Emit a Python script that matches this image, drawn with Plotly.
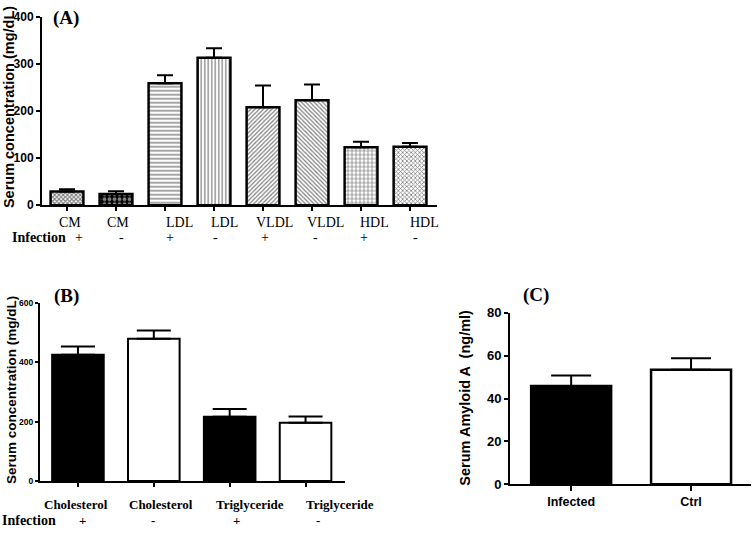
import plotly.graph_objects as go

# ---------------- data ----------------
a_labels = ["CM", "CM", "LDL", "LDL", "VLDL", "VLDL", "HDL", "HDL"]
a_infection = ["+", "-", "+", "-", "+", "-", "+", "-"]
a_values = [29, 24, 259, 313, 208, 223, 123, 124]
a_errors = [5, 6, 17, 20, 46, 33, 12, 8]
a_yticks = [0, 100, 200, 300, 400]

b_labels = ["Cholesterol", "Cholesterol", "Triglyceride", "Triglyceride"]
b_infection = ["+", "-", "+", "-"]
b_values = [425, 479, 216, 196]
b_errors = [28, 28, 26, 21]
b_colors = ["black", "white", "black", "white"]
b_yticks = [0, 200, 400, 600]

c_labels = ["Infected", "Ctrl"]
c_values = [45.8, 53.4]
c_errors = [4.9, 5.4]
c_colors = ["black", "white"]
c_yticks = [0, 20, 40, 60, 80]

# ---------------- styling ----------------
W, H = 752, 534
def px(x):
    return x / W
def py(y):
    return 1 - y / H

SANS = "Liberation Sans, Arial, sans-serif"
SERIF = "Liberation Serif, Times New Roman, serif"

def bold(vals):
    return ["<b>%s</b>" % v for v in vals]

a_patterns = [
    dict(shape="x", size=3, solidity=0.6, fgcolor="black", bgcolor="white"),
    dict(shape=".", size=5, solidity=0.45, fgcolor="white", bgcolor="black"),
    dict(shape="-", size=4, solidity=0.35, fgcolor="black", bgcolor="white"),
    dict(shape="|", size=3.5, solidity=0.35, fgcolor="black", bgcolor="white"),
    dict(shape="/", size=3, solidity=0.4, fgcolor="black", bgcolor="white"),
    dict(shape="\\", size=3, solidity=0.4, fgcolor="black", bgcolor="white"),
    dict(shape="+", size=4, solidity=0.35, fgcolor="black", bgcolor="white"),
    dict(shape="x", size=3, solidity=0.45, fgcolor="black", bgcolor="white"),
]

fig = go.Figure()

# Panel A bars (one trace per bar to allow different patterns)
for i, (v, e, pat) in enumerate(zip(a_values, a_errors, a_patterns)):
    fig.add_trace(go.Bar(
        x=[i], y=[v], width=0.67, xaxis="x", yaxis="y",
        marker=dict(color="white", line=dict(color="black", width=2.5), pattern=pat),
        error_y=dict(type="data", array=[e], arrayminus=[0], symmetric=False,
                     color="black", thickness=2, width=8),
        showlegend=False, hoverinfo="skip",
    ))

# Panel B
fig.add_trace(go.Bar(
    x=list(range(len(b_values))), y=b_values, width=0.68, xaxis="x2", yaxis="y2",
    marker=dict(color=b_colors, line=dict(color="black", width=2)),
    error_y=dict(type="data", array=b_errors, arrayminus=[0] * len(b_errors), symmetric=False,
                 color="black", thickness=2, width=17),
    showlegend=False, hoverinfo="skip",
))

# Panel C
fig.add_trace(go.Bar(
    x=list(range(len(c_values))), y=c_values, width=0.667, xaxis="x3", yaxis="y3",
    marker=dict(color=c_colors, line=dict(color="black", width=2.5)),
    error_y=dict(type="data", array=c_errors, arrayminus=[0] * len(c_errors), symmetric=False,
                 color="black", thickness=2, width=20),
    showlegend=False, hoverinfo="skip",
))

axis_common = dict(showgrid=False, zeroline=False, showline=True, linecolor="black",
                   linewidth=2, ticks="outside", tickcolor="black", tickwidth=2)

annotations = []

# Panel A labels
for i, (lab, inf) in enumerate(zip(a_labels, a_infection)):
    shift_lab = [3, 2, 14, 10, 11, 13, 13, 14][i]
    shift_inf = [12, 5, 5, 1, 2, 3, 3, 5][i]
    annotations.append(dict(x=i, y=py(222), xref="x", yref="paper", text=lab, showarrow=False,
                            xshift=shift_lab, font=dict(family=SERIF, size=14, color="black"),
                            xanchor="center", yanchor="middle"))
    annotations.append(dict(x=i, y=py(237), xref="x", yref="paper", text=inf, showarrow=False,
                            xshift=shift_inf, font=dict(family=SERIF, size=14, color="black"),
                            xanchor="center", yanchor="middle"))
annotations.append(dict(x=px(10), y=py(237), xref="paper", yref="paper", text="<b>Infection</b>",
                        showarrow=False, xanchor="left", yanchor="middle",
                        font=dict(family=SERIF, size=14, color="black")))
annotations.append(dict(x=px(66), y=py(11), xref="paper", yref="paper", text="<b>(A)</b>",
                        showarrow=False, xanchor="center", yanchor="middle",
                        font=dict(family=SERIF, size=19, color="black")))
annotations.append(dict(x=px(9), y=py(103), xref="paper", yref="paper",
                        text="<b>Serum concentration (mg/dL)</b>", textangle=-90,
                        showarrow=False, xanchor="center", yanchor="middle",
                        font=dict(family=SANS, size=14.5, color="black")))

# Panel B labels
for i, (lab, inf) in enumerate(zip(b_labels, b_infection)):
    shift_lab = [-2, 7, 20, 34][i]
    shift_inf = [5, -1, 7, 12][i]
    annotations.append(dict(x=i, y=py(512), xref="x2", yref="paper", text="<b>" + lab + "</b>",
                            showarrow=False, xshift=shift_lab,
                            font=dict(family=SERIF, size=13, color="black"),
                            xanchor="center", yanchor="middle"))
    annotations.append(dict(x=i, y=py(528), xref="x2", yref="paper", text="<b>" + inf + "</b>",
                            showarrow=False, xshift=shift_inf,
                            font=dict(family=SERIF, size=13, color="black"),
                            xanchor="center", yanchor="middle"))
annotations.append(dict(x=px(0), y=py(528), xref="paper", yref="paper", text="<b>Infection</b>",
                        showarrow=False, xanchor="left", yanchor="middle",
                        font=dict(family=SERIF, size=14, color="black")))
annotations.append(dict(x=px(66), y=py(297), xref="paper", yref="paper", text="<b>(B)</b>",
                        showarrow=False, xanchor="center", yanchor="middle",
                        font=dict(family=SERIF, size=19, color="black")))
annotations.append(dict(x=px(12), y=py(394), xref="paper", yref="paper",
                        text="<b>Serum concentration (mg/dL)</b>", textangle=-90,
                        showarrow=False, xanchor="center", yanchor="middle",
                        font=dict(family=SANS, size=13.5, color="black")))

# Panel C labels
annotations.append(dict(x=px(536), y=py(296), xref="paper", yref="paper", text="<b>(C)</b>",
                        showarrow=False, xanchor="center", yanchor="middle",
                        font=dict(family=SERIF, size=19, color="black")))
annotations.append(dict(x=px(465), y=py(402), xref="paper", yref="paper",
                        text="<b>Serum Amyloid A  (ng/ml)</b>", textangle=-90,
                        showarrow=False, xanchor="center", yanchor="middle",
                        font=dict(family=SANS, size=14.5, color="black")))

fig.update_layout(
    width=W, height=H,
    margin=dict(l=0, r=0, t=0, b=0),
    paper_bgcolor="white", plot_bgcolor="white",
    barmode="overlay",
    xaxis=dict(domain=[px(42), px(437)], range=[-0.51, 7.55], anchor="y",
               tickvals=list(range(len(a_values))), showticklabels=False, ticklen=4,
               **axis_common),
    yaxis=dict(domain=[py(204), py(10)], range=[0, 400], anchor="x",
               tickvals=a_yticks, ticktext=bold(a_yticks), ticklen=4,
               tickfont=dict(family=SANS, size=12, color="black"),
               **axis_common),
    xaxis2=dict(domain=[px(40), px(345)], range=[-0.5, 3.52], anchor="y2",
                tickvals=list(range(len(b_values))), showticklabels=False, ticklen=4,
                **axis_common),
    yaxis2=dict(domain=[py(487.7), py(304.3)], range=[0, 600], anchor="x2",
                tickvals=b_yticks, ticktext=bold(b_yticks), ticklen=3,
                tickfont=dict(family=SANS, size=8.5, color="black"),
                **axis_common),
    xaxis3=dict(domain=[px(510), px(751)], range=[-0.51, 1.5], anchor="y3",
                tickvals=list(range(len(c_values))), ticktext=bold(c_labels), ticklen=5,
                tickfont=dict(family=SANS, size=12.5, color="black"),
                **axis_common),
    yaxis3=dict(domain=[py(491), py(314.7)], range=[0, 80], anchor="x3",
                tickvals=c_yticks, ticktext=bold(c_yticks), ticklen=4,
                tickfont=dict(family=SANS, size=13, color="black"),
                **axis_common),
    annotations=annotations,
)

fig.write_html("out.html", config={"displayModeBar": False},
               post_script="document.body.style.margin='0';document.body.style.overflow='hidden';")
